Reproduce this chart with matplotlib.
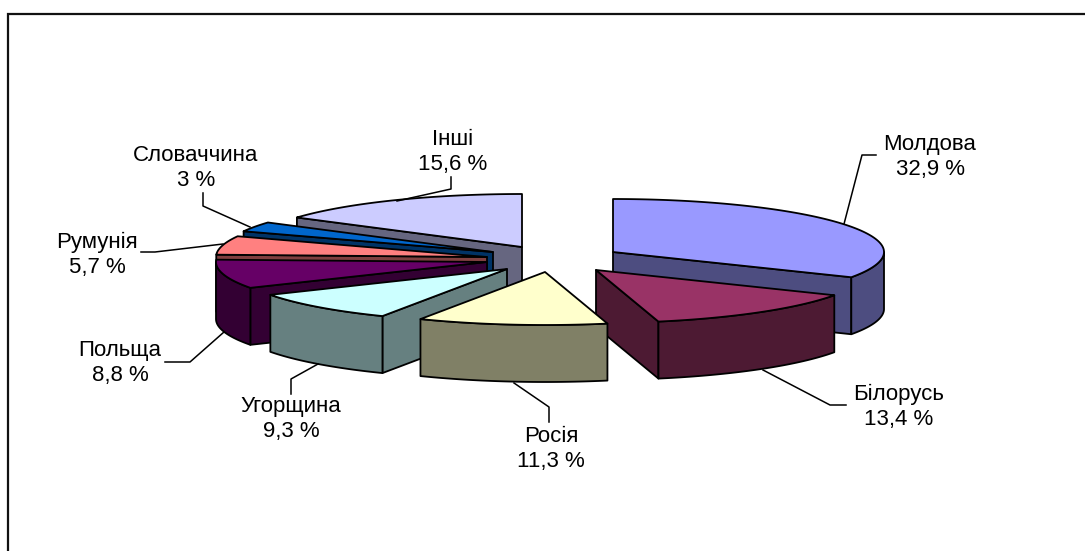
import numpy as np
import matplotlib
matplotlib.use("Agg")
import matplotlib.pyplot as plt
from matplotlib.patches import Polygon

plt.rcParams['font.family'] = ['Liberation Sans', 'DejaVu Sans']

categories = ["Молдова", "Білорусь", "Росія", "Угорщина", "Польща", "Румунія", "Словаччина", "Інші"]
values = [32.9, 13.4, 11.3, 9.3, 8.8, 5.7, 3.0, 15.6]
value_labels = ["32,9 %", "13,4 %", "11,3 %", "9,3 %", "8,8 %", "5,7 %", "3 %", "15,6 %"]
top_colors = ["#9999FF", "#993366", "#FFFFCC", "#CCFFFF", "#660066", "#FF8080", "#0066CC", "#CCCCFF"]
side_colors = ["#4D4D80", "#4D1A33", "#808066", "#668080", "#330033", "#804040", "#003366", "#666680"]
apex_x = [613, 596, 545, 507, 487, 487, 493, 522]
apex_y = [252, 270, 272, 269, 262, 257, 252, 247]
label_x = [930, 899, 551, 291, 120, 97, 196, 453]
label_y = [157, 407, 449, 419, 363, 255, 168, 152]
leaders = [
    [(844, 224), (862, 155), (876, 155)],
    [(763, 370), (830, 405), (846, 405)],
    [(514, 383), (549, 407), (549, 422)],
    [(318, 364), (291, 379), (291, 394)],
    [(224, 332), (190, 362), (165, 362)],
    [(223, 244), (155, 252), (141, 252)],
    [(250, 227), (203, 206), (203, 193)],
    [(397, 201), (451, 189), (451, 177)],
]
draw_order = [7, 6, 5, 4, 0, 1, 3, 2]

RX, RY, DEPTH = 271, 53, 57
LW = 1.3

fig = plt.figure(figsize=(10.85, 5.51), dpi=100)
ax = fig.add_axes([0, 0, 1, 1])
ax.set_xlim(0, 1085)
ax.set_ylim(551, 0)
ax.axis("off")

# frame: open at the right and bottom
ax.plot([8, 8, 1085], [551, 14, 14], color="#111111", lw=1.6, solid_joinstyle="miter")

total = sum(values)
edges = np.concatenate([[0], np.cumsum(values)]) / total * 2 * np.pi


def rim(cx, cy, a0, a1, dy=0.0):
    t = np.linspace(a0, a1, max(int(abs(a1 - a0) * 60), 2))
    return np.column_stack([cx + RX * np.sin(t), cy - RY * np.cos(t) + dy])


def patch(points, color):
    ax.add_patch(Polygon(points, closed=True, facecolor=color, edgecolor="black",
                         lw=LW, joinstyle="round"))


for i in draw_order:
    a0, a1 = edges[i], edges[i + 1]
    cx, cy = apex_x[i], apex_y[i]
    # radial faces turned to the viewer
    for a, normal in ((a0, a0 - np.pi / 2), (a1, a1 + np.pi / 2)):
        if np.cos(normal) < 0:
            o = (cx + RX * np.sin(a), cy - RY * np.cos(a))
            patch([(cx, cy), o, (o[0], o[1] + DEPTH), (cx, cy + DEPTH)], side_colors[i])
    # outer wall, front half only
    lo, hi = max(a0, np.pi / 2), min(a1, 3 * np.pi / 2)
    if hi > lo:
        patch(np.vstack([rim(cx, cy, lo, hi), rim(cx, cy, hi, lo, DEPTH)]), side_colors[i])
    # top
    patch(np.vstack([[(cx, cy)], rim(cx, cy, a0, a1)]), top_colors[i])

for pts in leaders:
    xs, ys = zip(*pts)
    ax.plot(xs, ys, color="black", lw=1.1)

for name, val, x, y in zip(categories, value_labels, label_x, label_y):
    ax.text(x, y, f"{name}\n{val}", ha="center", va="center", fontsize=16,
            linespacing=1.27, color="black")

fig.savefig("out.png", dpi=100)
